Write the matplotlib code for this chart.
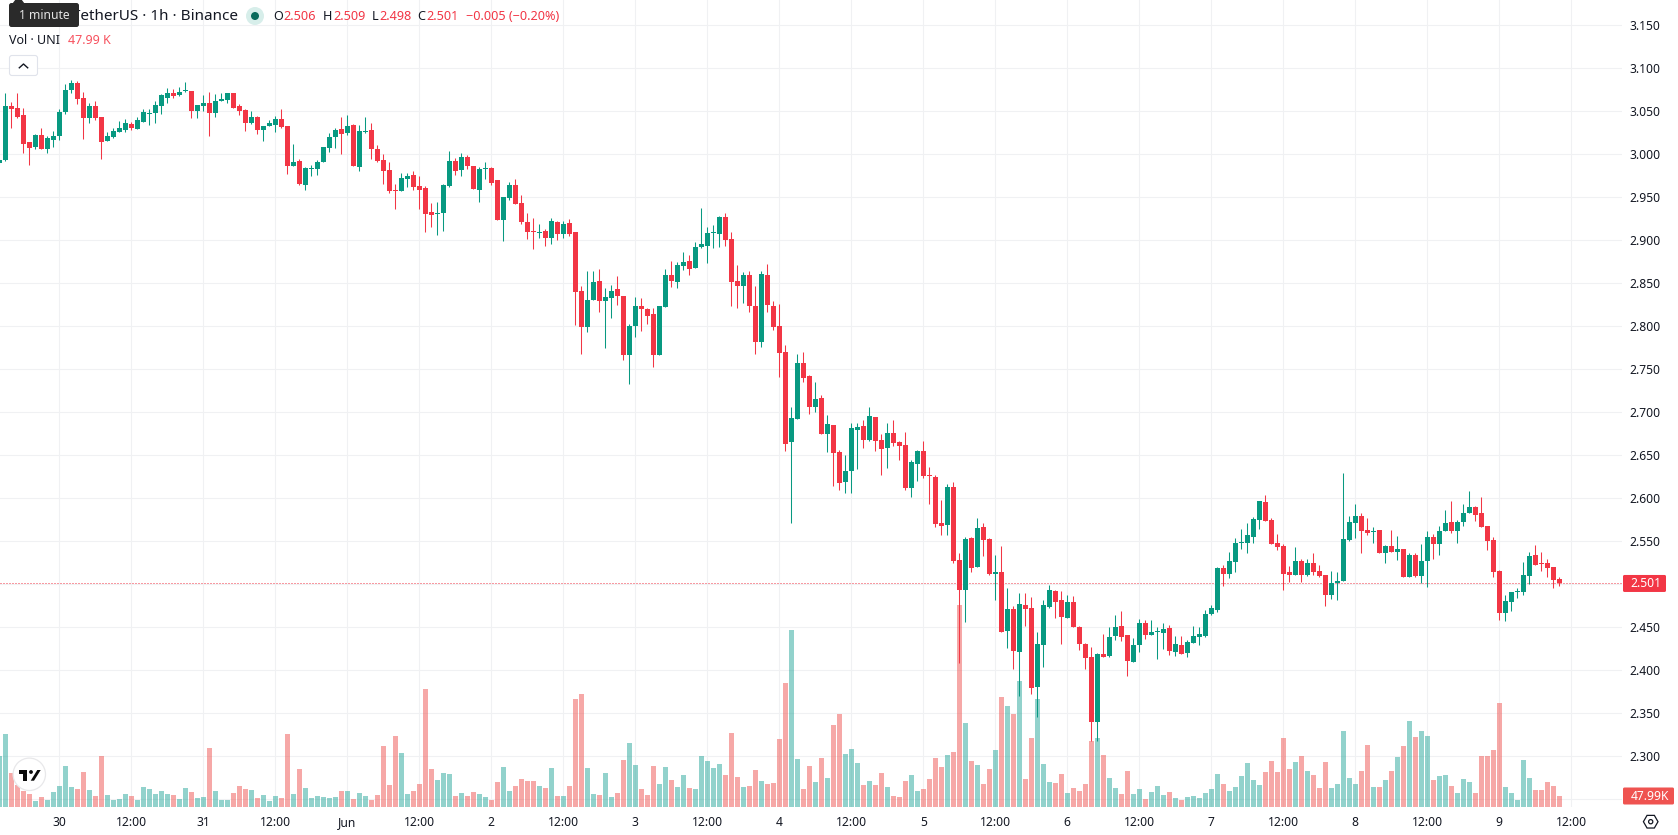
import numpy as np
import matplotlib
matplotlib.use('Agg')
import matplotlib.pyplot as plt
from matplotlib.patches import Circle, FancyBboxPatch, Polygon, RegularPolygon

plt.rcParams['font.family'] = ['Noto Sans', 'DejaVu Sans']

opens = [
    2.990, 2.993, 3.056, 3.054, 3.046, 3.014, 3.008, 3.022, 3.006, 3.017,
    3.021, 3.049, 3.075, 3.083, 3.066, 3.042, 3.056, 3.043, 3.015, 3.020,
    3.026, 3.028, 3.035, 3.029, 3.038, 3.047, 3.048, 3.056, 3.065, 3.071,
    3.069, 3.074, 3.074, 3.050, 3.056, 3.060, 3.048, 3.062, 3.063, 3.071,
    3.056, 3.052, 3.036, 3.043, 3.028, 3.033, 3.034, 3.041, 3.033, 2.986,
    2.992, 2.964, 2.983, 2.983, 2.991, 3.007, 3.020, 3.029, 3.025, 3.034,
    2.985, 3.026, 3.028, 3.006, 2.993, 2.982, 2.958, 2.957, 2.971, 2.976,
    2.963, 2.961, 2.933, 2.931, 2.932, 2.963, 2.992, 2.982, 2.997, 2.986,
    2.958, 2.983, 2.984, 2.970, 2.924, 2.949, 2.964, 2.943, 2.921, 2.911,
    2.909, 2.911, 2.903, 2.921, 2.907, 2.920, 2.910, 2.841, 2.799, 2.831,
    2.853, 2.830, 2.833, 2.843, 2.835, 2.767, 2.800, 2.824, 2.820, 2.814,
    2.767, 2.822, 2.860, 2.851, 2.870, 2.876, 2.868, 2.892, 2.893, 2.909,
    2.907, 2.927, 2.901, 2.853, 2.847, 2.860, 2.824, 2.782, 2.860, 2.824,
    2.800, 2.770, 2.666, 2.692, 2.757, 2.742, 2.706, 2.717, 2.675, 2.685,
    2.654, 2.619, 2.632, 2.679, 2.684, 2.668, 2.695, 2.668, 2.658, 2.676,
    2.665, 2.662, 2.612, 2.640, 2.655, 2.627, 2.625, 2.571, 2.569, 2.613,
    2.528, 2.493, 2.554, 2.520, 2.567, 2.553, 2.512, 2.514, 2.446, 2.471,
    2.421, 2.476, 2.472, 2.381, 2.429, 2.474, 2.492, 2.482, 2.461, 2.479,
    2.450, 2.431, 2.415, 2.340, 2.419, 2.417, 2.440, 2.452, 2.441, 2.410,
    2.429, 2.455, 2.441, 2.444, 2.443, 2.449, 2.421, 2.429, 2.420, 2.432,
    2.439, 2.440, 2.465, 2.470, 2.519, 2.512, 2.526, 2.548, 2.548, 2.555,
    2.575, 2.596, 2.575, 2.548, 2.545, 2.514, 2.511, 2.527, 2.511, 2.525,
    2.515, 2.511, 2.488, 2.501, 2.504, 2.551, 2.571, 2.579, 2.563, 2.561,
    2.563, 2.537, 2.545, 2.538, 2.541, 2.509, 2.534, 2.510, 2.527, 2.555,
    2.547, 2.562, 2.572, 2.562, 2.572, 2.583, 2.590, 2.583, 2.568, 2.551,
    2.515, 2.467, 2.480, 2.491, 2.491, 2.510, 2.534, 2.525, 2.525, 2.520, 2.506,
]
highs = [
    2.995, 3.071, 3.061, 3.071, 3.054, 3.014, 3.024, 3.031, 3.021, 3.027,
    3.053, 3.082, 3.086, 3.085, 3.072, 3.060, 3.062, 3.043, 3.026, 3.031,
    3.039, 3.041, 3.038, 3.043, 3.053, 3.053, 3.062, 3.070, 3.077, 3.076,
    3.078, 3.084, 3.074, 3.057, 3.069, 3.072, 3.070, 3.071, 3.071, 3.071,
    3.059, 3.053, 3.050, 3.045, 3.033, 3.040, 3.045, 3.053, 3.033, 3.012,
    2.995, 2.985, 2.987, 2.993, 3.008, 3.025, 3.031, 3.043, 3.046, 3.035,
    3.034, 3.043, 3.036, 3.011, 3.000, 2.991, 2.965, 2.978, 2.978, 2.981,
    2.975, 2.963, 2.943, 2.944, 2.965, 3.004, 2.996, 3.002, 2.999, 2.986,
    2.985, 2.991, 2.985, 2.970, 2.950, 2.968, 2.971, 2.953, 2.932, 2.926,
    2.919, 2.913, 2.926, 2.922, 2.922, 2.925, 2.910, 2.847, 2.864, 2.864,
    2.867, 2.845, 2.848, 2.858, 2.835, 2.803, 2.834, 2.833, 2.821, 2.821,
    2.824, 2.867, 2.876, 2.875, 2.886, 2.883, 2.898, 2.938, 2.916, 2.918,
    2.928, 2.932, 2.910, 2.871, 2.863, 2.864, 2.847, 2.864, 2.872, 2.829,
    2.826, 2.778, 2.706, 2.768, 2.770, 2.743, 2.735, 2.720, 2.697, 2.685,
    2.656, 2.650, 2.688, 2.688, 2.691, 2.706, 2.695, 2.675, 2.688, 2.691,
    2.667, 2.677, 2.645, 2.656, 2.667, 2.636, 2.627, 2.598, 2.617, 2.619,
    2.536, 2.555, 2.555, 2.577, 2.571, 2.554, 2.534, 2.545, 2.496, 2.475,
    2.490, 2.490, 2.485, 2.445, 2.482, 2.499, 2.493, 2.492, 2.488, 2.486,
    2.451, 2.432, 2.427, 2.420, 2.442, 2.450, 2.464, 2.469, 2.441, 2.438,
    2.460, 2.459, 2.459, 2.450, 2.455, 2.453, 2.440, 2.440, 2.435, 2.452,
    2.450, 2.470, 2.476, 2.520, 2.522, 2.538, 2.554, 2.564, 2.571, 2.578,
    2.597, 2.604, 2.577, 2.559, 2.547, 2.521, 2.543, 2.529, 2.530, 2.536,
    2.522, 2.511, 2.516, 2.514, 2.630, 2.580, 2.593, 2.583, 2.577, 2.567,
    2.563, 2.546, 2.563, 2.556, 2.541, 2.537, 2.536, 2.547, 2.562, 2.559,
    2.568, 2.586, 2.597, 2.575, 2.593, 2.609, 2.591, 2.602, 2.568, 2.555,
    2.517, 2.488, 2.491, 2.496, 2.526, 2.538, 2.546, 2.538, 2.529, 2.520, 2.509,
]
lows = [
    2.988, 2.992, 3.031, 3.042, 3.001, 2.988, 3.006, 3.006, 3.001, 3.008,
    3.017, 3.047, 3.071, 3.059, 3.018, 3.036, 3.040, 2.995, 3.015, 3.019,
    3.026, 3.026, 3.028, 3.029, 3.038, 3.034, 3.036, 3.047, 3.060, 3.065,
    3.068, 3.072, 3.042, 3.042, 3.050, 3.021, 3.043, 3.062, 3.060, 3.054,
    3.046, 3.027, 3.035, 3.024, 3.015, 3.033, 3.026, 3.031, 2.977, 2.986,
    2.964, 2.958, 2.975, 2.976, 2.991, 3.003, 3.007, 3.000, 3.022, 2.986,
    2.981, 3.025, 2.995, 2.991, 2.965, 2.955, 2.936, 2.957, 2.962, 2.958,
    2.936, 2.910, 2.915, 2.906, 2.911, 2.962, 2.976, 2.975, 2.983, 2.960,
    2.945, 2.971, 2.964, 2.924, 2.899, 2.947, 2.942, 2.919, 2.902, 2.890,
    2.903, 2.893, 2.896, 2.900, 2.903, 2.905, 2.801, 2.768, 2.793, 2.831,
    2.817, 2.775, 2.810, 2.825, 2.761, 2.733, 2.788, 2.795, 2.803, 2.753,
    2.767, 2.822, 2.846, 2.845, 2.866, 2.860, 2.868, 2.891, 2.874, 2.891,
    2.892, 2.893, 2.824, 2.821, 2.827, 2.817, 2.768, 2.776, 2.817, 2.796,
    2.741, 2.655, 2.571, 2.692, 2.735, 2.698, 2.700, 2.675, 2.654, 2.614,
    2.610, 2.606, 2.606, 2.634, 2.659, 2.667, 2.655, 2.627, 2.635, 2.661,
    2.645, 2.610, 2.602, 2.620, 2.624, 2.593, 2.567, 2.557, 2.557, 2.525,
    2.409, 2.456, 2.514, 2.520, 2.533, 2.511, 2.482, 2.445, 2.426, 2.402,
    2.370, 2.452, 2.372, 2.346, 2.404, 2.473, 2.461, 2.431, 2.461, 2.450,
    2.424, 2.402, 2.318, 2.318, 2.416, 2.416, 2.435, 2.434, 2.393, 2.410,
    2.421, 2.436, 2.441, 2.413, 2.425, 2.418, 2.417, 2.419, 2.415, 2.432,
    2.429, 2.439, 2.464, 2.468, 2.498, 2.507, 2.514, 2.541, 2.536, 2.548,
    2.564, 2.574, 2.547, 2.540, 2.493, 2.503, 2.511, 2.503, 2.510, 2.511,
    2.508, 2.475, 2.483, 2.482, 2.504, 2.550, 2.554, 2.537, 2.557, 2.548,
    2.536, 2.525, 2.538, 2.528, 2.508, 2.508, 2.509, 2.502, 2.497, 2.530,
    2.534, 2.562, 2.560, 2.548, 2.568, 2.583, 2.574, 2.567, 2.540, 2.508,
    2.458, 2.457, 2.469, 2.484, 2.488, 2.500, 2.522, 2.516, 2.508, 2.496, 2.498,
]
closes = [
    2.993, 3.056, 3.053, 3.043, 3.012, 3.007, 3.022, 3.006, 3.019, 3.021,
    3.049, 3.075, 3.083, 3.064, 3.042, 3.056, 3.042, 3.014, 3.021, 3.027,
    3.031, 3.036, 3.031, 3.040, 3.049, 3.048, 3.057, 3.069, 3.071, 3.068,
    3.072, 3.075, 3.050, 3.057, 3.060, 3.048, 3.062, 3.064, 3.071, 3.054,
    3.050, 3.036, 3.043, 3.028, 3.033, 3.036, 3.041, 3.032, 2.986, 2.991,
    2.965, 2.984, 2.984, 2.991, 3.008, 3.020, 3.028, 3.024, 3.033, 2.986,
    3.027, 3.027, 3.006, 2.992, 2.981, 2.957, 2.957, 2.972, 2.975, 2.962,
    2.958, 2.931, 2.929, 2.932, 2.964, 2.992, 2.981, 2.997, 2.986, 2.960,
    2.983, 2.984, 2.967, 2.924, 2.950, 2.964, 2.942, 2.921, 2.910, 2.910,
    2.910, 2.903, 2.922, 2.907, 2.919, 2.907, 2.840, 2.799, 2.831, 2.851,
    2.830, 2.834, 2.841, 2.835, 2.767, 2.800, 2.824, 2.820, 2.812, 2.767,
    2.824, 2.860, 2.853, 2.871, 2.875, 2.867, 2.892, 2.896, 2.909, 2.910,
    2.927, 2.900, 2.851, 2.847, 2.860, 2.824, 2.782, 2.861, 2.825, 2.799,
    2.769, 2.663, 2.693, 2.757, 2.740, 2.706, 2.716, 2.675, 2.686, 2.653,
    2.618, 2.632, 2.682, 2.683, 2.668, 2.696, 2.667, 2.657, 2.676, 2.664,
    2.661, 2.612, 2.642, 2.655, 2.626, 2.626, 2.570, 2.568, 2.613, 2.527,
    2.493, 2.553, 2.519, 2.566, 2.552, 2.512, 2.514, 2.445, 2.471, 2.422,
    2.477, 2.471, 2.379, 2.431, 2.476, 2.493, 2.479, 2.462, 2.479, 2.450,
    2.431, 2.414, 2.340, 2.419, 2.416, 2.439, 2.450, 2.439, 2.411, 2.429,
    2.455, 2.441, 2.445, 2.445, 2.448, 2.422, 2.431, 2.419, 2.433, 2.440,
    2.442, 2.466, 2.472, 2.519, 2.512, 2.527, 2.548, 2.549, 2.557, 2.576,
    2.597, 2.574, 2.547, 2.543, 2.512, 2.511, 2.527, 2.511, 2.525, 2.514,
    2.510, 2.488, 2.502, 2.504, 2.553, 2.573, 2.579, 2.562, 2.560, 2.562,
    2.537, 2.545, 2.538, 2.541, 2.509, 2.534, 2.510, 2.527, 2.555, 2.547,
    2.562, 2.571, 2.562, 2.573, 2.583, 2.590, 2.581, 2.567, 2.550, 2.514,
    2.467, 2.481, 2.491, 2.492, 2.511, 2.533, 2.523, 2.524, 2.519, 2.505, 2.501,
]
# volume in thousands of UNI
volumes = [
    222, 318, 148, 96, 70, 57, 26, 44, 31, 65,
    92, 179, 87, 79, 153, 74, 48, 222, 52, 31,
    35, 57, 48, 31, 87, 79, 57, 70, 57, 52,
    35, 83, 65, 39, 44, 257, 70, 31, 31, 61,
    92, 79, 74, 39, 52, 26, 48, 39, 318, 57,
    166, 83, 39, 48, 44, 39, 44, 70, 70, 35,
    61, 48, 31, 52, 266, 96, 310, 236, 57, 70,
    100, 515, 166, 118, 148, 144, 48, 61, 48, 65,
    57, 44, 31, 109, 174, 70, 92, 122, 113, 113,
    92, 83, 170, 48, 48, 92, 471, 493, 170, 57,
    52, 148, 44, 61, 205, 279, 183, 79, 52, 179,
    100, 174, 118, 87, 140, 83, 79, 222, 201, 170,
    188, 140, 323, 131, 87, 92, 161, 113, 100, 105,
    297, 541, 772, 209, 79, 179, 109, 214, 126, 358,
    406, 231, 253, 192, 96, 113, 96, 148, 87, 48,
    44, 113, 140, 70, 79, 122, 214, 174, 227, 240,
    881, 366, 201, 183, 100, 166, 249, 480, 441, 406,
    550, 122, 301, 471, 188, 109, 105, 144, 61, 83,
    70, 100, 288, 301, 227, 126, 83, 57, 157, 57,
    79, 35, 65, 92, 52, 65, 39, 31, 44, 48,
    39, 61, 79, 144, 100, 70, 87, 135, 192, 118,
    96, 153, 201, 153, 301, 166, 196, 222, 157, 140,
    83, 196, 83, 100, 332, 126, 100, 157, 270, 87,
    87, 118, 157, 218, 266, 375, 305, 332, 310, 118,
    135, 140, 92, 61, 122, 109, 61, 222, 222, 249,
    454, 87, 61, 31, 205, 126, 74, 74, 109, 92, 47.99,
]
price_ticks = [2.25, 2.30, 2.35, 2.40, 2.45, 2.50, 2.55, 2.60, 2.65, 2.70, 2.75,
               2.80, 2.85, 2.90, 2.95, 3.00, 3.05, 3.10, 3.15]
# prices hidden behind the last-value tags get no label
hidden_ticks = [2.25, 2.50]
time_ticks = list(range(0, 264, 12))
time_labels = ['30', '12:00', '31', '12:00', 'Jun', '12:00', '2', '12:00', '3', '12:00',
               '4', '12:00', '5', '12:00', '6', '12:00', '7', '12:00', '8', '12:00',
               '9', '12:00']

UP = '#089981'
DOWN = '#f23645'
VOL_UP = '#26a69a'
VOL_DOWN = '#ef5350'
GRID = '#f0f1f3'
INK = '#131722'

W, H = 1678, 835
PLOT_W, PLOT_H = 1622, 807

hours = np.arange(-10, -10 + len(closes))
o, h, l, c = map(np.array, (opens, highs, lows, closes))
rising = c >= o

fig = plt.figure(figsize=(W / 100, H / 100), dpi=100, facecolor='white')
rect = [0, 1 - PLOT_H / H, PLOT_W / W, PLOT_H / H]

# base axes carry the grid and the tick labels
ax = fig.add_axes(rect, zorder=1)
ax.set_xlim(-9.883, 260.45)
ax.set_ylim(2.2411, 3.1794)
ax.set_xticks(time_ticks, time_labels)
ax.set_yticks(price_ticks, ['' if p in hidden_ticks else '%.3f' % p for p in price_ticks])
ax.yaxis.tick_right()
ax.tick_params(length=0, labelsize=8.7, labelcolor=INK)
ax.tick_params(axis='x', pad=6.5)
ax.tick_params(axis='y', pad=5.4)
ax.grid(True, color=GRID, lw=0.8)
ax.set_axisbelow(True)
for s in ax.spines.values():
    s.set_visible(False)
ax.get_xticklabels()[4].set_fontweight('bold')

vol_ax = fig.add_axes(rect, sharex=ax, zorder=2)
vol_ax.patch.set_visible(False)
vol_ax.axis('off')
vol_ax.set_ylim(0, 807 * 47.99 / 11)
vol_ax.bar(hours, volumes, width=0.82, lw=0, alpha=0.5,
           color=np.where(rising, VOL_UP, VOL_DOWN))

price_ax = fig.add_axes(rect, sharex=ax, sharey=ax, zorder=3)
price_ax.patch.set_visible(False)
price_ax.axis('off')
price_ax.axhline(c[-1], color=DOWN, lw=0.72, ls=(0, (1, 2)), zorder=1)
colors = np.where(rising, UP, DOWN)
price_ax.vlines(hours, l, h, colors=colors, lw=0.75, zorder=2)
price_ax.bar(hours, np.maximum(np.abs(c - o), 0.0012), bottom=np.minimum(o, c),
             width=0.84, lw=0, color=colors, zorder=3)

# overlay in pixel coordinates for the legend rows, tags and logo
ov = fig.add_axes([0, 0, 1, 1], zorder=4)
ov.set_xlim(0, W)
ov.set_ylim(H, 0)
ov.patch.set_visible(False)
ov.axis('off')


def label(x, y, s, color=INK, size=9.1, ha='left', **kw):
    ov.text(x, y, s, color=color, fontsize=size, ha=ha, va='center', **kw)


# legend, first row
label(238, 16, 'TetherUS · 1h · Binance', size=11, ha='right')
ov.add_patch(Polygon([(13, 4), (16, 0), (21, 0), (24, 4)], color='#2a2a2a', zorder=5))
ov.add_patch(FancyBboxPatch((9, 3), 70, 24, boxstyle='round,pad=0,rounding_size=2.5',
                            fc='#2a2a2a', ec='none', zorder=5))
label(44, 15.5, '1 minute', color='#e4e4e4', size=8.7, ha='center', zorder=6)
ov.add_patch(Circle((255, 16), 9, fc='#d7eeea', ec='none'))
ov.add_patch(Circle((255, 16), 4, fc='#0a6b5c', ec='none'))
row = [(273, 'O', opens), (323, 'H', highs), (371.5, 'L', lows), (417.5, 'C', closes)]
for x, name, values in row:
    label(x, 16, name)
    label(x + {'O': 10.5, 'H': 10, 'L': 7.5, 'C': 9}[name], 16, '%.3f' % values[-1], color=DOWN)
change = closes[-1] - opens[-1]
label(466, 16, '\u2212%.3f (\u2212%.2f%%)' % (abs(change), abs(change) / opens[-1] * 100), color=DOWN)

# legend, second row and the collapse button
label(9, 40.5, 'Vol · UNI', size=9)
label(67.5, 40.5, '%.2f K' % volumes[-1], color='#f7525f', size=9)
ov.add_patch(FancyBboxPatch((9.5, 55.5), 28, 20, boxstyle='round,pad=0,rounding_size=2.5',
                            fc='white', ec='#e0e3eb', lw=0.8))
ov.plot([19.3, 23.5, 27.7], [67.8, 64, 67.8], color=INK, lw=1)

# last-value tags on the price scale
price_y = ov.transData.inverted().transform(ax.transData.transform((0, c[-1])))[1]
ov.add_patch(FancyBboxPatch((1623, price_y - 8.5), 43, 17, boxstyle='round,pad=0,rounding_size=1.5',
                            fc=DOWN, ec='none'))
label(1630, price_y, '%.3f' % c[-1], color='white', size=8.7)
vol_y = ov.transData.inverted().transform(vol_ax.transData.transform((0, volumes[-1])))[1]
ov.add_patch(FancyBboxPatch((1623, vol_y - 8.5), 51, 17, boxstyle='round,pad=0,rounding_size=1.5',
                            fc=VOL_DOWN, ec='none'))
label(1630.5, vol_y + 0.5, '%.2fK' % volumes[-1], color='white', size=8.7)

# scale settings icon
ov.add_patch(RegularPolygon((1650.7, 821.7), 6, radius=7.3, orientation=np.pi / 2,
                            fc='none', ec=INK, lw=0.9))
ov.add_patch(Circle((1650.7, 821.7), 2.1, fc='none', ec=INK, lw=0.9))

# attribution logo
ov.add_patch(Circle((29.3, 774.3), 16.2, fc='white', ec='#e8e8ea', lw=0.9))
ov.add_patch(Polygon([(19, 770), (27.2, 770), (27.2, 780.7), (23, 780.7), (23, 774), (19, 774)],
                     color='#0b0b0b', lw=0))
ov.add_patch(Circle((31, 772), 1.9, color='#0b0b0b', lw=0))
ov.add_patch(Polygon([(37.3, 770), (40.7, 770), (34, 780.7), (30.7, 780.7)], color='#0b0b0b', lw=0))

fig.savefig('out.png', dpi=100, facecolor='white')
